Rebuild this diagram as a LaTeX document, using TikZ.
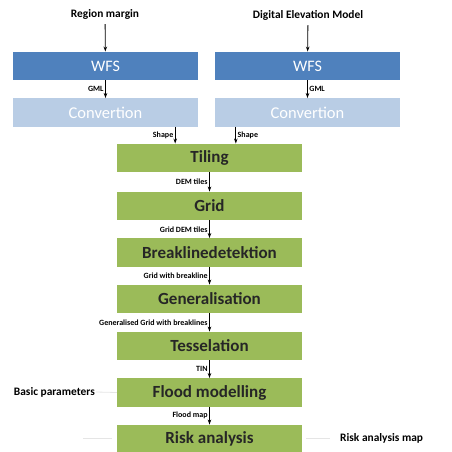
\documentclass[tikz,border=0pt]{standalone}
\usepackage{fontspec}
\setmainfont{Carlito}
\usepackage{xcolor}
\usetikzlibrary{arrows.meta,positioning,calc}
\definecolor{wfsblue}{HTML}{4F81BD}
\definecolor{convblue}{HTML}{B9CDE5}
\definecolor{stepgreen}{HTML}{9BBB59}
\begin{document}
\begin{tikzpicture}[x=1pt,y=-1pt,>={Stealth[length=5pt,width=3.5pt]},
  box/.style={rectangle,minimum width=185pt,minimum height=28.5pt,inner sep=0pt},
  wfs/.style={box,fill=wfsblue,text=white,font=\fontsize{16}{18}\selectfont},
  conv/.style={box,fill=convblue,text=white,font=\fontsize{16.5}{18}\selectfont},
  proc/.style={box,fill=stepgreen,text=black!85,font=\bfseries\fontsize{17}{19}\selectfont},
  src/.style={font=\bfseries\fontsize{11.4}{13}\selectfont,inner sep=1pt},
  lbl/.style={font=\bfseries\fontsize{8}{9}\selectfont,inner sep=1.5pt},
  flow/.style={->,line width=0.8pt},
  faint/.style={black!10,line width=0.8pt}]
  \useasboundingbox (0,0) rectangle (452,452);
  % sources
  \node[src](regm) at (105,14){Region margin};
  \node[src](dem) at (308,15){Digital Elevation Model};
  \node[wfs](wfsl) at (105.5,66){WFS};
  \node[wfs](wfsr) at (307.5,66){WFS};
  \node[conv](convl) at (105.5,112.5){Convertion};
  \node[conv](convr) at (307.5,112.5){Convertion};
  \draw[flow,shorten <=4pt] (regm) -- (wfsl);
  \draw[flow,shorten <=4pt] (dem) -- (wfsr);
  \draw[flow] (wfsl) -- node[lbl,left]{GML} (convl);
  \draw[flow] (wfsr) -- node[lbl,right]{GML} (convr);
  % processing chain
  \node[proc](til) at (209.5,158){Tiling};
  \node[proc](grd) at (209.5,206){Grid};
  \node[proc](brk) at (209.5,252.5){Breaklinedetektion};
  \node[proc](gen) at (209.5,299){Generalisation};
  \node[proc](tes) at (209.5,346){Tesselation};
  \node[proc](fld) at (209.5,392.5){Flood modelling};
  \node[proc](rsk) at (209.5,439){Risk analysis};
  \draw[flow] ([xshift=-23pt]convl.south east) -- node[lbl,left]{Shape} ([xshift=-23pt]convl.south east |- til.north);
  \draw[flow] ([xshift=21pt]convr.south west) -- node[lbl,right]{Shape} ([xshift=21pt]convr.south west |- til.north);
  \draw[flow] (til) -- node[lbl,left]{DEM tiles} (grd);
  \draw[flow] (grd) -- node[lbl,left]{Grid DEM tiles} (brk);
  \draw[flow] (brk) -- node[lbl,left]{Grid with breakline} (gen);
  \draw[flow] (gen) -- node[lbl,left]{Generalised Grid with breaklines} (tes);
  \draw[flow] (tes) -- node[lbl,left]{TIN} (fld);
  \draw[flow] (fld) -- node[lbl,left]{Flood map} (rsk);
  % inputs and outputs
  \node[src,anchor=east](basic) at (96,392){Basic parameters};
  \draw[faint] (basic.east) -- (fld.west);
  \coordinate (rin) at (83,438);
  \draw[faint] (rin) -- ([xshift=-5pt]rsk.west |- rin);
  \node[src,anchor=west](rmap) at (339,438){Risk analysis map};
  \draw[faint] ([xshift=4pt]rsk.east |- rmap) -- ([xshift=-9pt]rmap.west);
\end{tikzpicture}
\end{document}
